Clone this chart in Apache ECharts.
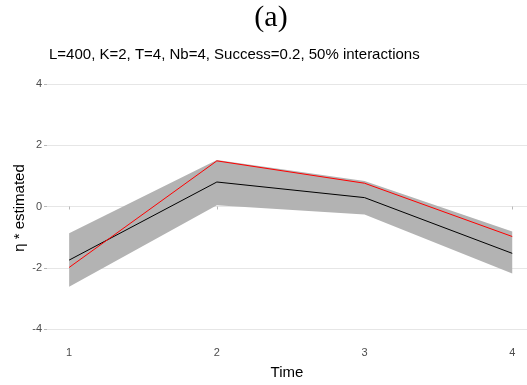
<!DOCTYPE html>
<html>
<head>
<meta charset="utf-8">
<script src="https://cdn.jsdelivr.net/npm/echarts@6/dist/echarts.min.js"></script>
<style>
  html, body { margin: 0; padding: 0; background: #ffffff; }
  #chart { width: 527px; height: 385px; }
</style>
</head>
<body>
<div id="chart"></div>
<script>
// Time points and estimated interaction strength
const times = [1, 2, 3, 4];
const estimated = [-1.75, 0.80, 0.29, -1.53];
const truth = [-1.99, 1.49, 0.76, -0.98];
const bandLower = [-2.62, 0.04, -0.26, -2.19];
const bandUpper = [-0.87, 1.52, 0.83, -0.82];

const pairs = (ys) => times.map((t, i) => [t, ys[i]]);
const bandRows = times.map((t, i) => [t, bandLower[i], bandUpper[i]]);

const chart = echarts.init(document.getElementById('chart'), null, { renderer: 'canvas' });

const tickColor = '#4d4d4d';

// Ribbon between lower and upper bounds, built as one polygon
function renderBand(params, api) {
  if (params.dataIndex !== 0) return;
  const upper = [];
  const lower = [];
  for (let i = 0; i < bandRows.length; i++) {
    upper.push(api.coord([bandRows[i][0], bandRows[i][2]]));
    lower.push(api.coord([bandRows[i][0], bandRows[i][1]]));
  }
  const points = upper.concat(lower.reverse());
  return {
    type: 'polygon',
    shape: { points: points },
    style: { fill: '#b3b3b3', stroke: null }
  };
}

chart.setOption({
  animation: false,
  backgroundColor: '#ffffff',
  title: [
    {
      text: '(a)',
      left: 271,
      top: 3,
      padding: 0,
      textAlign: 'center',
      textStyle: { fontFamily: 'Liberation Serif', fontWeight: 'normal', fontSize: 30, color: '#000000' }
    },
    {
      text: 'L=400, K=2, T=4, Nb=4, Success=0.2, 50% interactions',
      left: 49,
      top: 47,
      padding: 0,
      textStyle: { fontFamily: 'Liberation Sans', fontWeight: 'normal', fontSize: 15, color: '#000000' }
    }
  ],
  // Vertical axis title
  graphic: [
    {
      type: 'text',
      x: 20,
      y: 208,
      rotation: Math.PI / 2,
      style: {
        text: 'η * estimated',
        fontFamily: 'Liberation Sans',
        fontSize: 15,
        fill: '#000000',
        align: 'center',
        verticalAlign: 'middle'
      }
    }
  ],
  grid: { left: 47, right: 0, top: 84, bottom: 54, containLabel: false },
  xAxis: {
    type: 'value',
    min: 0.85,
    max: 4.10,
    offset: 12,
    name: 'Time',
    nameLocation: 'middle',
    nameGap: 24,
    nameTextStyle: { fontFamily: 'Liberation Sans', fontSize: 15, color: '#000000' },
    axisLine: { show: false },
    axisTick: { show: true, length: 3, customValues: times, lineStyle: { color: '#b8b8b8' } },
    axisLabel: {
      customValues: times,
      margin: 6,
      fontFamily: 'Liberation Sans', fontSize: 11, color: tickColor
    },
    splitLine: { show: false }
  },
  yAxis: {
    type: 'value',
    min: -4,
    max: 4,
    interval: 2,
    axisLine: { show: false },
    axisTick: { show: true, length: 3, lineStyle: { color: '#b8b8b8' } },
    axisLabel: { margin: 5, fontFamily: 'Liberation Sans', fontSize: 11, color: tickColor },
    splitLine: { show: true, lineStyle: { color: '#e6e6e6', width: 1 } }
  },
  series: [
    {
      name: 'band',
      type: 'custom',
      renderItem: renderBand,
      data: bandRows,
      encode: { x: 0, y: [1, 2] },
      silent: true,
      z: 2
    },
    {
      name: 'estimated',
      type: 'line',
      data: pairs(estimated),
      symbol: 'none',
      lineStyle: { color: '#000000', width: 1 },
      z: 3
    },
    {
      name: 'truth',
      type: 'line',
      data: pairs(truth),
      symbol: 'none',
      lineStyle: { color: '#ff0000', width: 1 },
      z: 4
    }
  ]
});
</script>
</body>
</html>
